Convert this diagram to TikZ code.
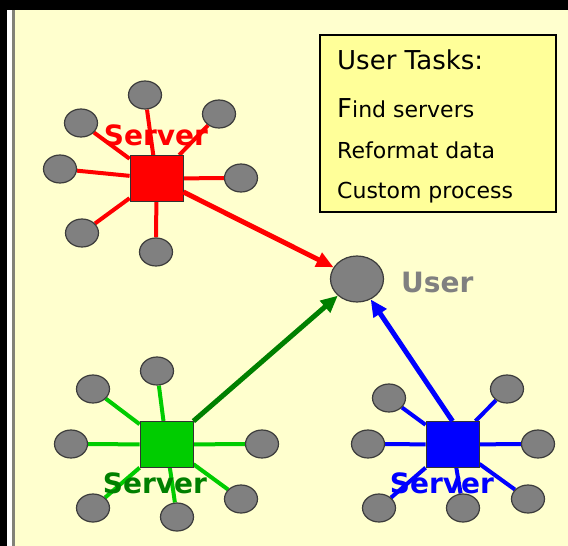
\documentclass[tikz,border=0pt]{standalone}
\usepackage{fontspec}
\setmainfont{DejaVu Sans}
\usetikzlibrary{arrows.meta,shapes.geometric}
\pgfdeclarelayer{back}
\pgfdeclarelayer{links}
\pgfsetlayers{back,links,main}

\begin{document}
\begin{tikzpicture}[x=1pt,y=-1pt,
  sat/.style={ellipse,draw=satedge,fill=satgray,line width=1.2pt,
    inner sep=0pt,minimum width=33pt,minimum height=28pt},
  hub/.style={rectangle,draw=hubedge,line width=.8pt,inner sep=0pt,
    minimum width=53pt,minimum height=46pt},
  lbl/.style={font=\bfseries\fontsize{28}{30}\selectfont,inner sep=0pt},
  task/.style={anchor=base west,inner sep=0pt,
    font=\fontsize{22}{24}\selectfont},
  spoke/.style={line width=4pt},
  feed/.style={line width=5pt,-{Triangle[length=17pt,width=15pt]}}]
 \definecolor{cream}{RGB}{255,255,206}
 \definecolor{satgray}{RGB}{128,128,128}
 \definecolor{satedge}{RGB}{60,60,60}
 \definecolor{hubedge}{RGB}{50,50,50}
 \definecolor{g1}{RGB}{0,204,0}
 \definecolor{g2}{RGB}{0,128,0}
 \definecolor{note}{RGB}{255,255,153}
 \definecolor{rim}{RGB}{130,130,120}
 % page and frame
 \begin{pgfonlayer}{back}
   \fill[cream] (0,0) rectangle (568,546);
   \fill[black] (0,0) rectangle (568,10);
   \fill[black] (0,0) rectangle (7,546);
   \fill[white] (7,10) rectangle (12,546);
   \fill[rim] (12,10) rectangle (15,546);
 \end{pgfonlayer}
 \path[use as bounding box] (0,0) rectangle (568,546);

 % task box
 \node[draw=black,line width=2.5pt,fill=note,minimum width=236pt,
   minimum height=177pt,inner sep=0pt] (tasks) at (438,123.5) {};
 \node[task,font=\fontsize{26}{28}\selectfont] (t0) at (337,69) {User Tasks:};
 \node[task] (t1) at (337,117) {{\fontsize{26}{28}\selectfont F}ind servers};
 \node[task] (t2) at (337,158) {Reformat data};
 \node[task] (t3) at (337,198) {Custom process};

 % servers
 \node[hub,fill=red] (rs) at (156.5,178.5) {};
 \node[hub,fill=g1] (gs) at (166.5,444.5) {};
 \node[hub,fill=blue] (bs) at (452.5,444.5) {};
 \node[lbl,text=red,anchor=base] (rl) at (156,145) {Server};
 \node[lbl,text=g2,anchor=base] (gl) at (155,493) {Server};
 \node[lbl,text=blue,anchor=base] (bl) at (442,493) {Server};

 % clients round each server
 \foreach \n/\xp/\yp in {
   1/145/95, 2/81/123, 3/219/114, 4/60/169,
   5/241/178, 6/82/233, 7/156/252
 } {\node[sat] (r\n) at (\xp,\yp) {};}
 \foreach \n/\xp/\yp in {
   1/157/371, 2/93/389, 3/71/444, 4/262/444,
   5/241/499, 6/177/517, 7/93/508
 } {\node[sat] (g\n) at (\xp,\yp) {};}
 \foreach \n/\xp/\yp in {
   1/389/398, 2/507/389, 3/368/444, 4/538/444,
   5/379/508, 6/463/508, 7/528/499
 } {\node[sat] (b\n) at (\xp,\yp) {};}
 \begin{pgfonlayer}{links}
   \foreach \n in {1,...,7} {
     \draw[spoke,red] (rs) -- (r\n);
     \draw[spoke,g1] (gs) -- (g\n);
     \draw[spoke,blue] (bs) -- (b\n);
   }
 \end{pgfonlayer}

 % user
 \node[sat,minimum width=53pt,minimum height=46pt] (user) at (357,279) {};
 \node[lbl,text=satgray,anchor=base west] (ul) at (401,292) {User};
 \draw[feed,red] (rs) -- (user);
 \draw[feed,g2] (gs) -- (user);
 \draw[feed,blue] (bs.north) -- (user);
\end{tikzpicture}
\end{document}
